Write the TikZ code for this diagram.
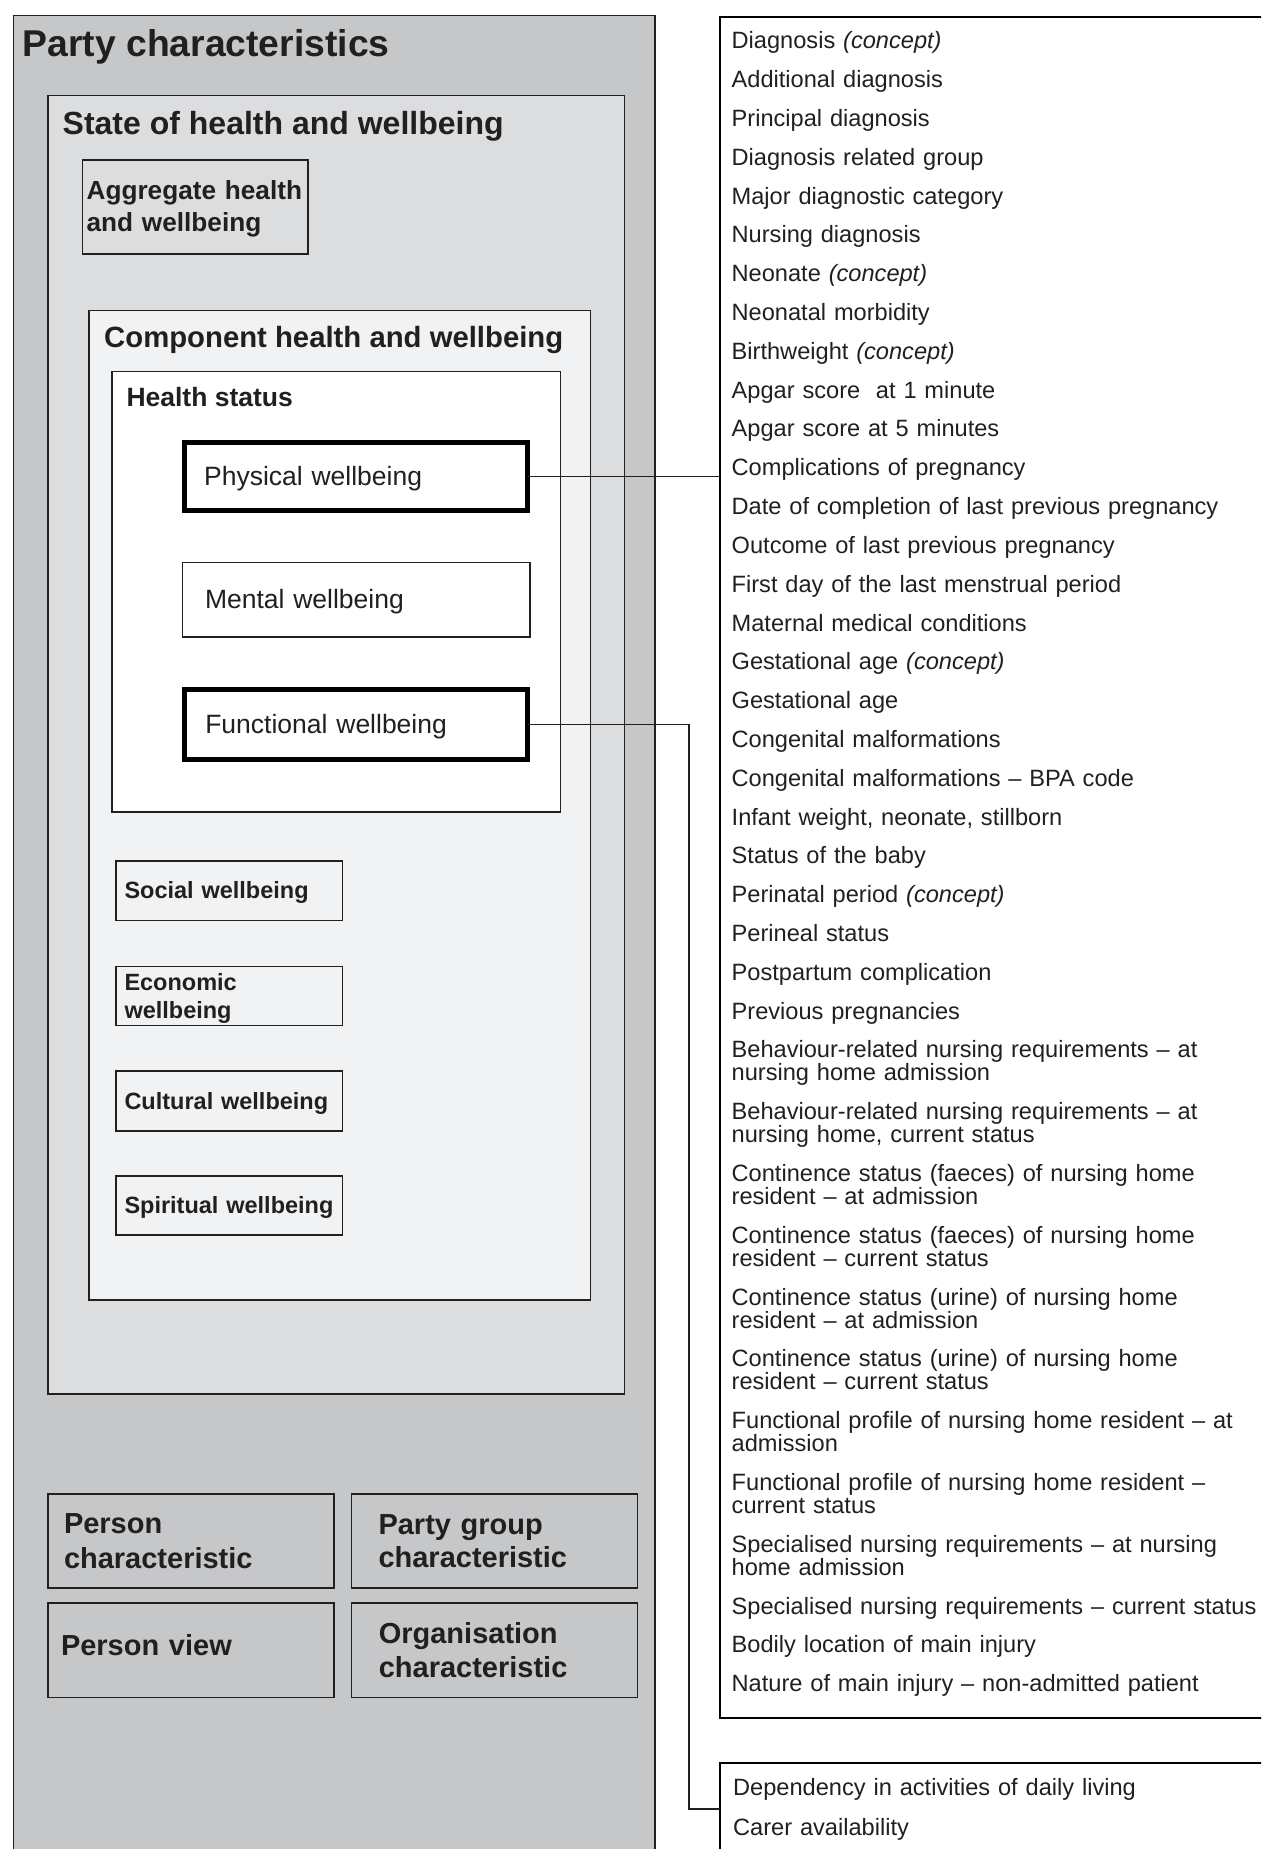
\documentclass[tikz,border=0pt]{standalone}
\usepackage{fontspec}
\setmainfont{Liberation Sans}
\usetikzlibrary{positioning}
\definecolor{partygray}{HTML}{C6C7C9}
\definecolor{stategray}{HTML}{DCDDDF}
\definecolor{compgray}{HTML}{F1F2F4}
\definecolor{ink}{HTML}{231F20}
\newcommand{\nextitem}{\\[15.8pt]}

\begin{document}
\begin{tikzpicture}[x=1pt,y=-1pt,
panel/.style={
    rectangle,
    draw=ink,
    anchor=north west,
    inner sep=0pt,
    outer sep=0pt,
    line width=1.5pt,
    text=ink
    },
wellbox/.style={
    panel,
    fill=white,
    align=left,
    text height=23pt,
    font=\fontsize{26.5}{30}\selectfont
    },
heavy/.style={draw=black, line width=5pt},
smallbox/.style={
    panel,
    fill=compgray,
    align=left,
    minimum width=226.3pt,
    inner xsep=8.5pt,
    text width=209.3pt,
    text height=21pt,
    font=\fontsize{23.5}{28}\selectfont\bfseries
    },
pbox/.style={
    panel,
    fill=partygray,
    align=left,
    minimum width=286pt,
    font=\fontsize{29}{33.5}\selectfont\bfseries
    },
heading/.style={anchor=base west, inner sep=0pt, text=ink},
listtext/.style={
    anchor=base west,
    inner sep=0pt,
    text=ink,
    align=left,
    text width=560pt,
    font=\fontsize{23.6}{23}\selectfont
    },
connector/.style={draw=ink, line width=1.5pt}
]
\useasboundingbox (0,0) rectangle (1261,1849);
\fill[white] (0,0) rectangle (1261,1849);
\clip (0,0) rectangle (1261,1849);

% left column
\node(party) [panel,fill=partygray,minimum width=641.5pt,minimum height=1870pt] at (13.5,15.5) {};
\node(partytitle) [heading,font=\fontsize{37.3}{44}\selectfont\bfseries] at (22.5,57) {Party characteristics};
\node(state) [panel,fill=stategray,minimum width=576.5pt,minimum height=1298.5pt] at (48,95.5) {};
\node(statetitle) [heading,font=\fontsize{32}{38}\selectfont\bfseries] at (62.5,134.3) {State of health and wellbeing};
\node(aggr) [panel,fill=stategray,align=left,minimum width=225.4pt,minimum height=94pt,inner xsep=4pt,text width=217.4pt,text height=22pt,font=\fontsize{26.2}{32.5}\selectfont\bfseries] at (82.6,160.2) {Aggregate health\\and wellbeing};
\node(comp) [panel,fill=compgray,minimum width=501.3pt,minimum height=989.3pt] at (89,310.7) {};
\node(comptitle) [heading,font=\fontsize{29.3}{35}\selectfont\bfseries] at (104,347.7) {Component health and wellbeing};
\node(hstat) [panel,fill=white,minimum width=448.7pt,minimum height=440.7pt] at (111.8,371.3) {};
\node(hstattitle) [heading,font=\fontsize{26.5}{32}\selectfont\bfseries] at (126.3,406) {Health status};
\node(phys) [wellbox,heavy,minimum width=342.9pt,minimum height=68pt,inner xsep=19.5pt,text width=303.9pt] at (184.6,442.5) {Physical wellbeing};
\node(mental) [wellbox,minimum width=347.4pt,minimum height=74.3pt,inner xsep=22.4pt,text width=302.6pt] at (182.6,562.7) {Mental wellbeing};
\node(func) [wellbox,heavy,minimum width=342.9pt,minimum height=69.7pt,inner xsep=20.7pt,text width=301.5pt] at (184.6,689.5) {Functional wellbeing};
\node(social) [smallbox,minimum height=59.7pt] at (116,861) {Social wellbeing};
\node(econ) [smallbox,minimum height=59pt] at (116,966.7) {Economic\\wellbeing};
\node(cult) [smallbox,minimum height=60pt] at (116,1071) {Cultural wellbeing};
\node(spirit) [smallbox,minimum height=59pt] at (116,1176) {Spiritual wellbeing};
\node(personc) [pbox,minimum height=94pt,inner xsep=16pt,text width=254pt,font=\fontsize{29}{34.5}\selectfont\bfseries] at (48,1494) {Person\\characteristic};
\node(partyg) [pbox,minimum height=94pt,inner xsep=27pt,text width=232pt] at (351.5,1494) {Party group\\characteristic};
\node(personv) [pbox,minimum height=94.7pt,inner xsep=13pt,text width=260pt,text depth=11pt] at (48,1603) {Person view};
\node(orgc) [pbox,minimum height=94.7pt,inner xsep=27.3pt,text width=231.4pt] at (351.5,1603) {Organisation\\characteristic};

% right column
\node(listA) [panel,draw=black,line width=1.8pt,minimum width=600pt,minimum height=1701pt] at (720,16.7) {};
\node(listAtext) [listtext] at (731.5,49) {Diagnosis \textit{(concept)}\nextitem
Additional diagnosis\nextitem
Principal diagnosis\nextitem
Diagnosis related group\nextitem
Major diagnostic category\nextitem
Nursing diagnosis\nextitem
Neonate \textit{(concept)}\nextitem
Neonatal morbidity\nextitem
Birthweight \textit{(concept)}\nextitem
Apgar score~ at 1 minute\nextitem
Apgar score at 5 minutes\nextitem
Complications of pregnancy\nextitem
Date of completion of last previous pregnancy\nextitem
Outcome of last previous pregnancy\nextitem
First day of the last menstrual period\nextitem
Maternal medical conditions\nextitem
Gestational age \textit{(concept)}\nextitem
Gestational age\nextitem
Congenital malformations\nextitem
Congenital malformations – BPA code\nextitem
Infant weight, neonate, stillborn\nextitem
Status of the baby\nextitem
Perinatal period \textit{(concept)}\nextitem
Perineal status\nextitem
Postpartum complication\nextitem
Previous pregnancies\nextitem
Behaviour-related nursing requirements – at\\nursing home admission\nextitem
Behaviour-related nursing requirements – at\\nursing home, current status\nextitem
Continence status (faeces) of nursing home\\resident – at admission\nextitem
Continence status (faeces) of nursing home\\resident – current status\nextitem
Continence status (urine) of nursing home\\resident – at admission\nextitem
Continence status (urine) of nursing home\\resident – current status\nextitem
Functional profile of nursing home resident – at\\admission\nextitem
Functional profile of nursing home resident –\\current status\nextitem
Specialised nursing requirements – at nursing\\home admission\nextitem
Specialised nursing requirements – current status\nextitem
Bodily location of main injury\nextitem
Nature of main injury – non-admitted patient};
\node(listB) [panel,draw=black,line width=1.8pt,minimum width=600pt,minimum height=91.4pt] at (720,1763.3) {};
\node(listBtext) [listtext] at (733,1795) {Dependency in activities of daily living\\[17pt]
Carer availability};

% links
\draw[connector] (phys.east) -- (phys.east -| listA.west);
\draw[connector] (func.east) -| ([xshift=-31pt]listB.west) -- (listB.west);
\end{tikzpicture}
\end{document}
